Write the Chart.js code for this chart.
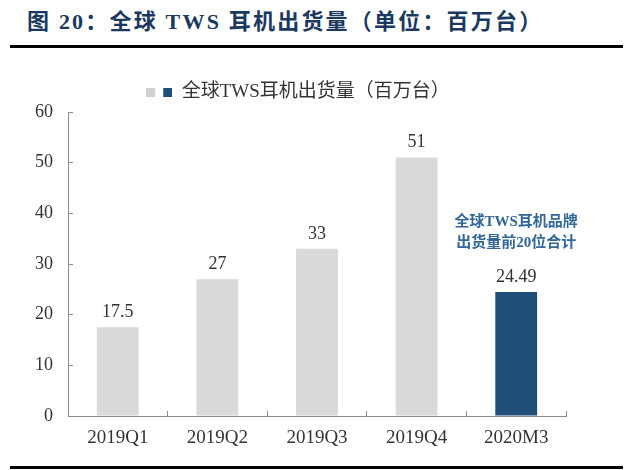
<!DOCTYPE html>
<html>
<head>
<meta charset="utf-8">
<script src="https://cdn.jsdelivr.net/npm/chart.js@4"></script>
<style>
  html, body { margin: 0; padding: 0; background: #fff; }
  #wrap { position: relative; width: 640px; height: 470px; overflow: hidden; }
  #title {
    position: absolute; left: 27px; top: 8px;
    font: bold 22px "Liberation Serif", "Noto Sans CJK SC", serif;
    letter-spacing: 2.2px; color: #1a3860; white-space: nowrap; line-height: 28px;
  }
  .rule { position: absolute; left: 10px; width: 613px; height: 3px; background: #000; }
  canvas { position: absolute; left: 0; top: 0; }
</style>
</head>
<body>
<div id="wrap">
  <div id="title">图 20：全球 TWS 耳机出货量（单位：百万台）</div>
  <div class="rule" style="top:45px"></div>
  <canvas id="c" width="640" height="470"></canvas>
  <div class="rule" style="top:466px"></div>
</div>
<script>
// ---- data ----
const CATEGORIES = ['2019Q1', '2019Q2', '2019Q3', '2019Q4', '2020M3'];
const SHIPMENTS = [17.5, 27, 33, 51, 24.49];
const LEGEND_LABEL = '全球TWS耳机出货量（百万台）';
const Y_TICKS = [0, 10, 20, 30, 40, 50, 60];
const ANNOTATION_INDEX = 4;
const ANNOTATION_LINES = ['全球TWS耳机品牌', '出货量前20位合计'];

// ---- styles ----
const GRAY = '#d9d9d9';
const NAVY = '#1f4e79';
const AXIS = '#8a8a8a';
const TEXT = '#333333';
const SERIF = "'Liberation Serif', 'Noto Sans CJK SC', serif";
const barColors = CATEGORIES.map((_, i) => i === ANNOTATION_INDEX ? NAVY : GRAY);

// legend swatch: two squares (gray + navy)
const swatch = document.createElement('canvas');
swatch.width = 26; swatch.height = 9;
(function () {
  const g = swatch.getContext('2d');
  g.fillStyle = '#d0d0d0'; g.fillRect(0, 0, 9, 9);
  g.fillStyle = NAVY; g.fillRect(17, 0, 9, 9);
})();

const labelPlugin = {
  id: 'valueLabels',
  afterDatasetsDraw(chart) {
    const ctx = chart.ctx;
    const meta = chart.getDatasetMeta(0);
    ctx.save();
    ctx.textAlign = 'center';
    ctx.textBaseline = 'middle';
    meta.data.forEach((bar, i) => {
      ctx.fillStyle = TEXT;
      ctx.font = "18px " + SERIF;
      ctx.fillText(String(SHIPMENTS[i]), bar.x, bar.y - 15);
      if (i === ANNOTATION_INDEX) {
        ctx.fillStyle = '#33679a';
        ctx.font = "bold 15px " + SERIF;
        ctx.fillText(ANNOTATION_LINES[0], bar.x, bar.y - 70);
        ctx.fillText(ANNOTATION_LINES[1], bar.x, bar.y - 49);
      }
    });
    ctx.restore();
  }
};

new Chart(document.getElementById('c'), {
  type: 'bar',
  data: {
    labels: CATEGORIES,
    datasets: [{
      label: LEGEND_LABEL,
      data: SHIPMENTS,
      backgroundColor: barColors,
      borderWidth: 0,
      barPercentage: 0.42,
      categoryPercentage: 1.0
    }]
  },
  options: {
    responsive: false,
    animation: false,
    devicePixelRatio: 1,
    layout: { padding: { left: 30, right: 74, top: 73, bottom: 14 } },
    plugins: {
      tooltip: { enabled: false },
      legend: {
        position: 'top',
        labels: {
          usePointStyle: true,
          pointStyleWidth: 26,
          padding: 10,
          color: TEXT,
          font: { family: SERIF, size: 19 },
          generateLabels: () => [{
            text: LEGEND_LABEL,
            pointStyle: swatch,
            fillStyle: NAVY,
            strokeStyle: NAVY,
            lineWidth: 0,
            hidden: false,
            datasetIndex: 0,
            fontColor: TEXT
          }]
        }
      }
    },
    scales: {
      x: {
        grid: { drawOnChartArea: false, drawTicks: true, tickLength: -5, color: AXIS, offset: true },
        border: { color: AXIS, width: 1 },
        ticks: { color: TEXT, padding: 16, font: { family: SERIF, size: 19 } },
        afterFit(s) { s.height = 40; }
      },
      y: {
        min: 0, max: 60,
        afterBuildTicks(s) { s.ticks = Y_TICKS.map(v => ({ value: v })); },
        grid: { drawOnChartArea: false, drawTicks: true, tickLength: -5, color: AXIS },
        border: { color: AXIS, width: 1 },
        ticks: { color: TEXT, padding: 20, font: { family: SERIF, size: 18 } },
        afterFit(s) { s.width = 38; }
      }
    }
  },
  plugins: [labelPlugin]
});
</script>
</body>
</html>
